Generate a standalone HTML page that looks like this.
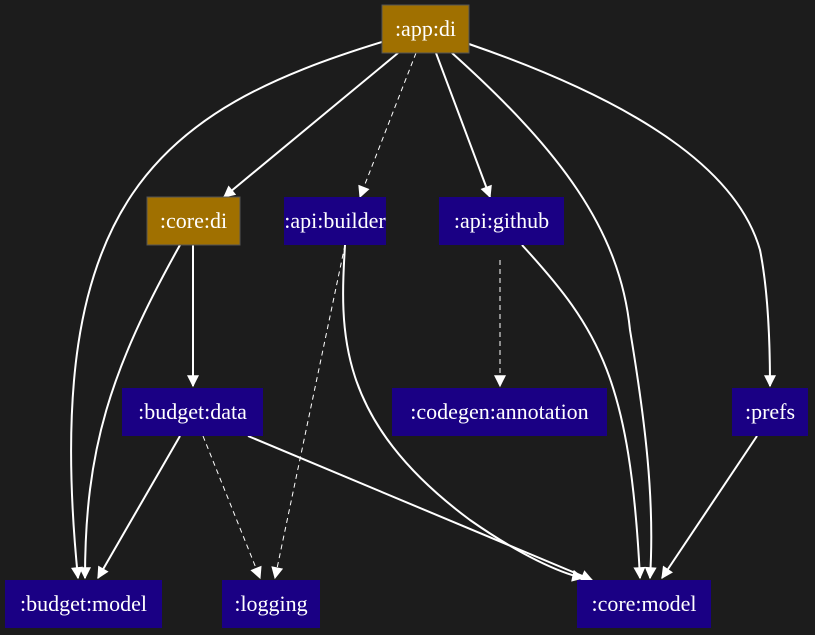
<!DOCTYPE html>
<html><head><style>body{margin:0;background:#1c1c1c}svg{display:block}text{font-family:"Liberation Serif",serif;font-size:22px;fill:#fff;text-anchor:middle}</style></head>
<body>
<svg width="815" height="635" viewBox="0 0 815 635">
<defs><marker id="b" viewBox="0 0 10 10" refX="9" refY="5" markerWidth="14" markerHeight="12" orient="auto" markerUnits="userSpaceOnUse"><path d="M0,0L10,5L0,10z" fill="#fff"/></marker></defs>
<rect width="815" height="635" fill="#1c1c1c"/>
<g fill="none" stroke="#fff" stroke-width="2">
<path d="M382,42 C160,110 40,200 78,578" marker-end="url(#b)"/>
<path d="M398,53 L224,197" marker-end="url(#b)"/>
<path d="M416,53 L360,197" stroke-width="1" stroke-dasharray="5,4" marker-end="url(#b)"/>
<path d="M436,53 L490,197" marker-end="url(#b)"/>
<path d="M452,53 C560,150 620,230 630,330 C645,420 655,500 650,578" marker-end="url(#b)"/>
<path d="M469,44 C660,110 740,180 760,250 C768,290 770,340 770,386" marker-end="url(#b)"/>
<path d="M180,245 C110,370 85,450 85,578" marker-end="url(#b)"/>
<path d="M193,245 L193,386" marker-end="url(#b)"/>
<path d="M345,245 C340,330 335,420 470,520 C520,555 560,573 583,578" marker-end="url(#b)"/>
<path d="M345,245 L275,578" stroke-width="1" stroke-dasharray="5,4" marker-end="url(#b)"/>
<path d="M500,260 L500,386" stroke-width="1" stroke-dasharray="5,4" marker-end="url(#b)"/>
<path d="M522,245 C600,330 630,380 640,578" marker-end="url(#b)"/>
<path d="M180,436 L98,578" marker-end="url(#b)"/>
<path d="M203,436 L260,578" stroke-width="1" stroke-dasharray="5,4" marker-end="url(#b)"/>
<path d="M248,436 L592,580" marker-end="url(#b)"/>
<path d="M757,436 L662,578" marker-end="url(#b)"/>
</g>
<g stroke="#555" stroke-width="1">
<rect x="382" y="5" width="87" height="48" fill="#a07000"/>
<rect x="147" y="197" width="93" height="48" fill="#a07000"/>
<rect x="284" y="197" width="102" height="48" fill="#1a0084" stroke="none"/>
<rect x="439" y="197" width="125" height="48" fill="#1a0084" stroke="none"/>
<rect x="122" y="388" width="141" height="48" fill="#1a0084" stroke="none"/>
<rect x="392" y="388" width="215" height="48" fill="#1a0084" stroke="none"/>
<rect x="732" y="388" width="76" height="48" fill="#1a0084" stroke="none"/>
<rect x="5" y="580" width="157" height="48" fill="#1a0084" stroke="none"/>
<rect x="222" y="580" width="98" height="48" fill="#1a0084" stroke="none"/>
<rect x="577" y="580" width="134" height="48" fill="#1a0084" stroke="none"/>
</g>
<text x="425.5" y="36">:app:di</text>
<text x="193.5" y="228">:core:di</text>
<text x="335" y="228">:api:builder</text>
<text x="501.5" y="228">:api:github</text>
<text x="192.5" y="419">:budget:data</text>
<text x="499.5" y="419">:codegen:annotation</text>
<text x="770" y="419">:prefs</text>
<text x="83.5" y="611">:budget:model</text>
<text x="271" y="611">:logging</text>
<text x="644" y="611">:core:model</text>
</svg>
</body></html>
